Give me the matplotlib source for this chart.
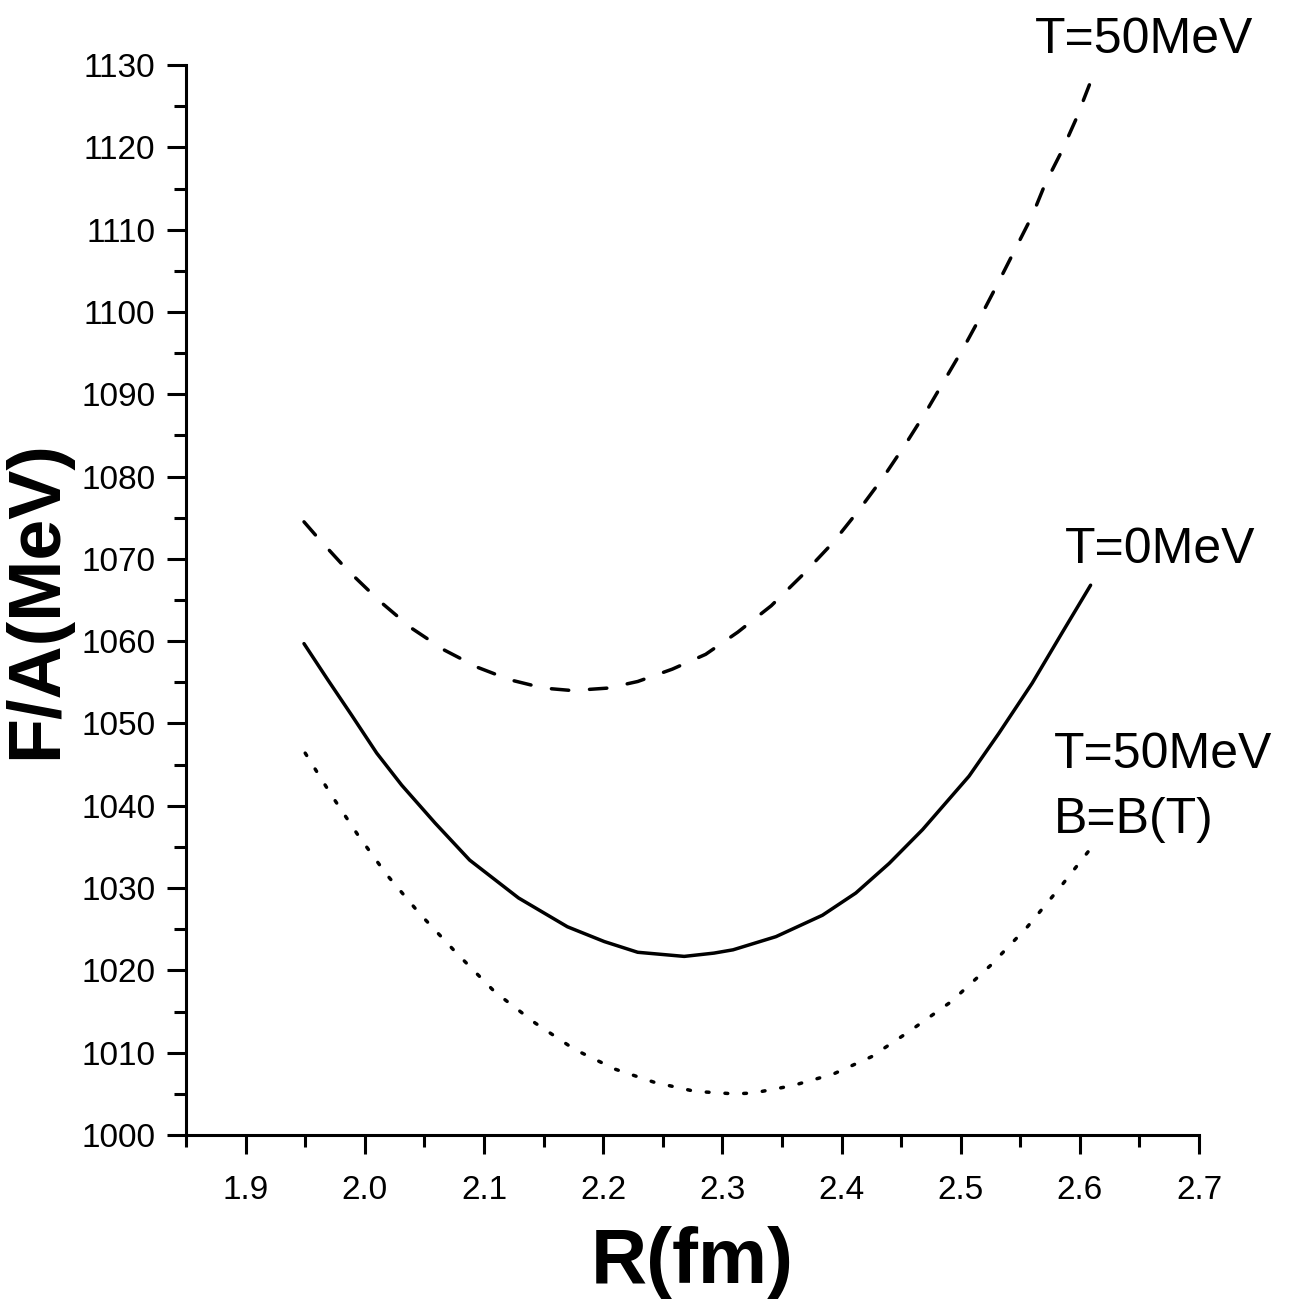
import numpy as np
import matplotlib
matplotlib.use("Agg")
import matplotlib.pyplot as plt
from matplotlib.ticker import MultipleLocator, FormatStrFormatter

plt.rcParams['font.family'] = ['Liberation Sans', 'DejaVu Sans']

# T = 0 MeV (solid)
r_t0 = [1.949, 1.969, 1.989, 2.010, 2.031, 2.059, 2.088, 2.129, 2.170, 2.201,
        2.229, 2.268, 2.293, 2.309, 2.345, 2.384, 2.412, 2.440, 2.468, 2.507,
        2.532, 2.560, 2.585, 2.609]
f_t0 = [1059.7, 1055.3, 1051.0, 1046.4, 1042.5, 1037.9, 1033.4, 1028.8, 1025.3, 1023.5,
        1022.2, 1021.7, 1022.1, 1022.5, 1024.1, 1026.7, 1029.4, 1033.0, 1037.1, 1043.6,
        1048.8, 1054.9, 1061.0, 1066.8]

# T = 50 MeV (dashed)
r_t50 = [1.949, 1.961, 1.985, 2.013, 2.039, 2.067, 2.095, 2.122, 2.150, 2.174,
         2.204, 2.229, 2.258, 2.286, 2.313, 2.341, 2.367, 2.393, 2.415, 2.435,
         2.454, 2.471, 2.503, 2.518, 2.532, 2.546, 2.560, 2.571, 2.585, 2.597, 2.608]
f_t50 = [1074.5, 1072.5, 1068.7, 1064.8, 1061.6, 1058.9, 1056.8, 1055.3, 1054.3, 1054.0,
         1054.3, 1055.1, 1056.6, 1058.4, 1061.1, 1064.3, 1068.0, 1072.0, 1076.0, 1079.9,
         1084.0, 1087.9, 1095.8, 1099.8, 1103.7, 1107.7, 1111.7, 1115.6, 1119.6, 1123.5, 1127.6]

# T = 50 MeV, B = B(T) (dotted)
r_bt = [1.950, 1.972, 1.994, 2.018, 2.046, 2.077, 2.109, 2.143, 2.176, 2.210,
        2.243, 2.277, 2.310, 2.326, 2.359, 2.393, 2.425, 2.457, 2.492, 2.525,
        2.556, 2.584, 2.609]
f_bt = [1046.4, 1041.3, 1036.5, 1031.7, 1026.9, 1022.1, 1017.4, 1013.6, 1010.4, 1008.0,
        1006.4, 1005.3, 1005.0, 1005.1, 1006.0, 1007.4, 1009.5, 1012.6, 1016.2, 1020.6,
        1025.3, 1030.2, 1034.8]

fig = plt.figure(figsize=(12.9, 13.01), dpi=100)
ax = fig.add_axes([0.1442, 0.1276, 0.7853, 0.8224])

lw = 2.5
ax.plot(r_t0, f_t0, color='black', lw=lw, solid_capstyle='round', solid_joinstyle='round')
ax.plot(r_t50, f_t50, color='black', lw=lw, linestyle=(0, (5.0, 6.0)), dash_capstyle='round')
ax.plot(r_bt, f_bt, color='black', lw=lw, linestyle=(0, (0.8, 4.6)), dash_capstyle='round')

ax.set_xlim(1.85, 2.7)
ax.set_ylim(1000, 1130)

ax.xaxis.set_major_locator(MultipleLocator(0.1))
ax.xaxis.set_minor_locator(MultipleLocator(0.05))
ax.xaxis.set_major_formatter(FormatStrFormatter('%.1f'))
ax.yaxis.set_major_locator(MultipleLocator(10))
ax.yaxis.set_minor_locator(MultipleLocator(5))

for s in ['top', 'right']:
    ax.spines[s].set_visible(False)
for s in ['left', 'bottom']:
    ax.spines[s].set_linewidth(2.2)

ax.tick_params(axis='both', which='major', direction='out', length=14, width=2.2, labelsize=24)
ax.tick_params(axis='both', which='minor', direction='out', length=8.5, width=2.2)
ax.tick_params(axis='x', which='major', pad=15)
ax.tick_params(axis='y', which='major', pad=8)

ax.set_xlabel('R(fm)', fontsize=56, fontweight='bold', labelpad=14)
ax.set_ylabel('F/A(MeV)', fontsize=53, fontweight='bold')
ax.yaxis.set_label_coords(-0.113, 0.5)

ax.text(2.562, 1133.0, 'T=50MeV', fontsize=36, ha='left', va='center', clip_on=False)
ax.text(2.587, 1071.1, 'T=0MeV', fontsize=36, ha='left', va='center', clip_on=False)
ax.text(2.578, 1046.2, 'T=50MeV', fontsize=36, ha='left', va='center', clip_on=False)
ax.text(2.578, 1038.3, 'B=B(T)', fontsize=36, ha='left', va='center', clip_on=False)

fig.savefig('out.png', dpi=100)
